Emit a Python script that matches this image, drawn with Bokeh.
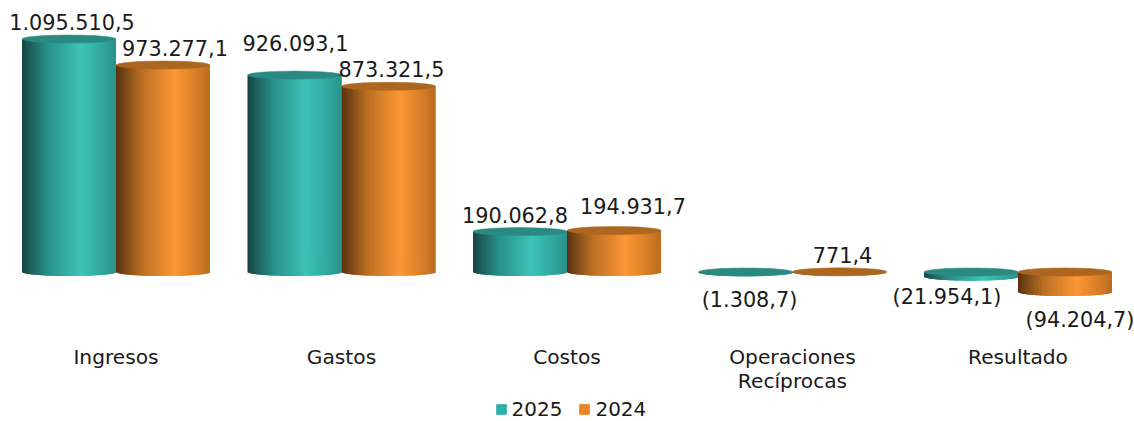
from bokeh.embed import file_html
from bokeh.resources import INLINE
from bokeh.plotting import figure
from bokeh.models import ColumnDataSource, Legend, LegendItem, Range1d
from bokeh.core.properties import value
import numpy as np

categories = ["Ingresos", "Gastos", "Costos", "Operaciones\nRecíprocas", "Resultado"]
values_2025 = [1095510.5, 926093.1, 190062.8, -1308.7, -21954.1]
values_2024 = [973277.1, 873321.5, 194931.7, 771.4, -94204.7]
labels_2025 = ["1.095.510,5", "926.093,1", "190.062,8", "(1.308,7)", "(21.954,1)"]
labels_2024 = ["973.277,1", "873.321,5", "194.931,7", "771,4", "(94.204,7)"]

# Label nudges in screen pixels, relative to the end of each column
dx_2025 = [3, 1, -5, 4, -24]
dy_2025 = [-17, -32, -17, 28, 20]
dx_2024 = [12, 3, 19, 3, 15]
dy_2024 = [-17, -17, -25, -17, 28]

# Horizontal shading of each cylinder: (position across the body, colour)
teal_stops = [(0.0, "#17433f"), (0.06, "#1a5753"), (0.28, "#29918a"), (0.62, "#3cc3b9"), (0.85, "#30a79e"), (1.0, "#2a9189")]
orange_stops = [(0.0, "#55300f"), (0.06, "#6e4014"), (0.28, "#bc7024"), (0.62, "#fe9634"), (0.85, "#d97f28"), (1.0, "#b96c20")]
teal_cap = "#2a8a82"
orange_cap = "#ad661f"
teal_flat = "#2fb0a8"
orange_flat = "#ec8428"

WIDTH, HEIGHT = 1134, 421
GROUP_PX = 225.5          # width of one category
FIRST_CENTER_PX = 115.5   # centre of the first category
BAR_PX = 94.0             # width of one cylinder
ZERO_PX = 271.5           # screen row of the zero line
UNITS_PER_PX = 4703.0
CAP_PX = 4.0              # half height of the elliptical ends
STRIPS = 94

x_start = -FIRST_CENTER_PX / GROUP_PX
x_end = x_start + WIDTH / GROUP_PX
y_end = ZERO_PX * UNITS_PER_PX
y_start = (ZERO_PX - HEIGHT) * UNITS_PER_PX

p = figure(width=WIDTH, height=HEIGHT, output_backend="svg", toolbar_location=None,
           x_range=Range1d(x_start, x_end), y_range=Range1d(y_start, y_end),
           min_border=0, outline_line_color=None, background_fill_color="white")
p.axis.visible = False
p.grid.visible = False

bar_w = BAR_PX / GROUP_PX
cap_h = CAP_PX * UNITS_PER_PX


def to_rgb(c):
    return np.array([int(c[i:i + 2], 16) for i in (1, 3, 5)], dtype=float)


def shade(stops, t):
    pos = [s[0] for s in stops]
    rgb = np.array([to_rgb(s[1]) for s in stops])
    return "#%02x%02x%02x" % tuple(int(round(np.interp(t, pos, rgb[:, k]))) for k in range(3))


def draw_series(vals, side, stops, cap_color):
    left, right, top, bottom, color = [], [], [], [], []
    cap_x, cap_y = [], []
    for i, v in enumerate(vals):
        x0 = i + (bar_w * (side - 1))
        upper, lower = max(v, 0.0), min(v, 0.0)
        for s in range(STRIPS):
            t = (s + 0.5) / STRIPS
            left.append(x0 + bar_w * s / STRIPS)
            # each strip runs under its neighbour so no white shows at the seams
            right.append(x0 + bar_w * min(s + 2, STRIPS) / STRIPS)
            top.append(upper)
            # the lower rim curves like the front of an ellipse
            bottom.append(lower - cap_h * np.sqrt(max(0.0, 1 - (2 * t - 1) ** 2)))
            color.append(shade(stops, t))
        cap_x.append(x0 + bar_w / 2)
        cap_y.append(upper)
    body = ColumnDataSource(dict(left=left, right=right, top=top, bottom=bottom, color=color))
    p.quad(left="left", right="right", top="top", bottom="bottom", fill_color="color",
           line_color=None, source=body)
    p.ellipse(x=cap_x, y=cap_y, width=bar_w, height=2 * cap_h, fill_color=cap_color,
              line_color=cap_color, line_width=0.5)
    return cap_x


def draw_labels(vals, centers, labels, dx, dy):
    src = ColumnDataSource(dict(x=centers, y=vals, text=labels, dx=dx, dy=dy))
    p.text(x="x", y="y", text="text", x_offset="dx", y_offset="dy", source=src,
           text_align="center", text_baseline="middle", text_color="#1a1a1a",
           text_font=value("DejaVu Sans"), text_font_size="20.8px")


centers_2025 = draw_series(values_2025, 0, teal_stops, teal_cap)
centers_2024 = draw_series(values_2024, 1, orange_stops, orange_cap)
draw_labels(values_2025, centers_2025, labels_2025, dx_2025, dy_2025)
draw_labels(values_2024, centers_2024, labels_2024, dx_2024, dy_2024)

# Category names sit under the columns, below the zero line
p.text(x=list(range(len(categories))), y=[0] * len(categories), text=categories,
       y_offset=73, text_align="center", text_baseline="top", text_color="#1a1a1a",
       text_font=value("DejaVu Sans"), text_font_size="20.2px", text_line_height=0.98)

# Legend swatches: empty renderers that only supply the colours
swatch_a = p.quad(left=[np.nan], right=[np.nan], top=[np.nan], bottom=[np.nan], fill_color=teal_flat, line_color=teal_flat)
swatch_b = p.quad(left=[np.nan], right=[np.nan], top=[np.nan], bottom=[np.nan], fill_color=orange_flat, line_color=orange_flat)
legend = Legend(items=[LegendItem(label="2025", renderers=[swatch_a]),
                       LegendItem(label="2024", renderers=[swatch_b])],
                orientation="horizontal", location=(494.5, 0), padding=0, margin=0, spacing=16,
                glyph_width=12, glyph_height=12, label_standoff=5, border_line_color=None,
                background_fill_alpha=0, label_text_font="DejaVu Sans", label_text_font_size="20px",
                label_text_color="#1a1a1a", label_height=20)
p.add_layout(legend, "center")

open("out.html", "w").write(file_html(p, INLINE))
